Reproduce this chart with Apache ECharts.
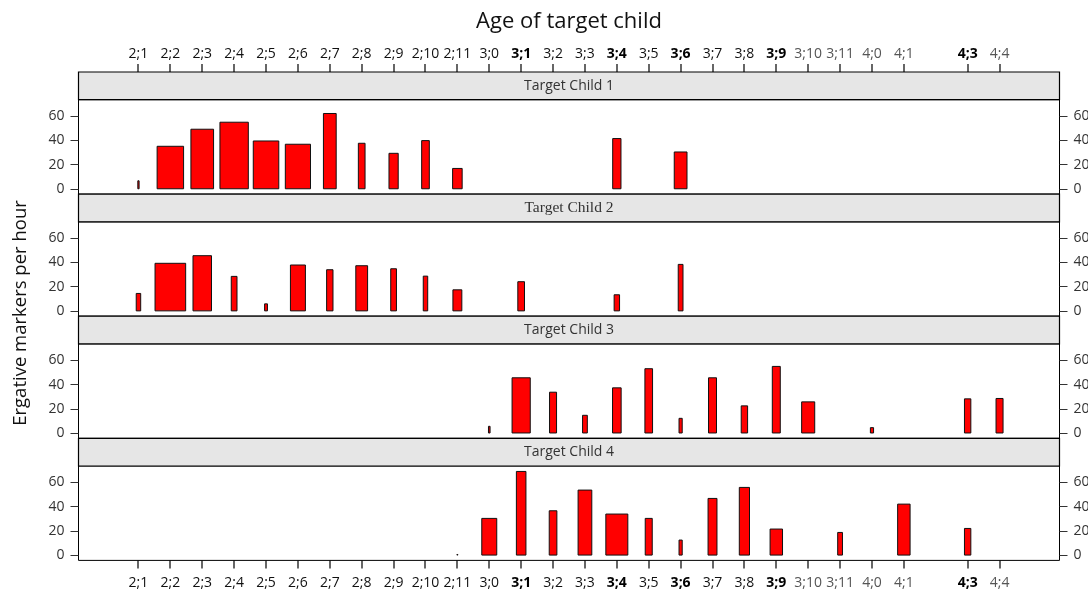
<!DOCTYPE html>
<html>
<head>
<meta charset="utf-8">
<title>Ergative markers per hour by age</title>
<script src="https://cdn.jsdelivr.net/npm/echarts@6/dist/echarts.min.js"></script>
<style>
  html, body { margin: 0; padding: 0; background: #fff; }
  #chart { width: 1088px; height: 590px; }
</style>
</head>
<body>
<div id="chart"></div>
<script>
// ---- data: age in months, ergative markers per hour, bar width (months) ----
const panelTitles = ['Target Child 1', 'Target Child 2', 'Target Child 3', 'Target Child 4'];

const child1Ages   = [25, 26, 27, 28, 29, 30, 31, 32, 33, 34, 35, 40, 42];
const child1Rates  = [6.6, 35.1, 49.2, 55.0, 39.5, 36.8, 62.2, 37.6, 29.3, 39.8, 16.8, 41.5, 30.4];
const child1Widths = [0.04, 0.83, 0.71, 0.89, 0.80, 0.79, 0.40, 0.21, 0.29, 0.24, 0.30, 0.26, 0.40];

const child2Ages   = [25, 26, 27, 28, 29, 30, 31, 32, 33, 34, 35, 37, 40, 42];
const child2Rates  = [14.4, 39.3, 45.6, 28.5, 5.8, 37.9, 34.0, 37.3, 34.8, 28.7, 17.4, 24.1, 13.3, 38.4];
const child2Widths = [0.14, 0.96, 0.58, 0.18, 0.09, 0.47, 0.20, 0.37, 0.18, 0.14, 0.28, 0.21, 0.17, 0.15];

const child3Ages   = [36, 37, 38, 39, 40, 41, 42, 43, 44, 45, 46, 48, 51, 52];
const child3Rates  = [5.5, 45.6, 33.7, 14.6, 37.3, 53.1, 12.1, 45.6, 22.4, 55.0, 25.7, 4.4, 28.2, 28.5];
const child3Widths = [0.05, 0.57, 0.22, 0.15, 0.27, 0.24, 0.10, 0.25, 0.20, 0.25, 0.41, 0.10, 0.20, 0.22];

const child4Ages   = [35, 36, 37, 38, 39, 40, 41, 42, 43, 44, 45, 47, 49, 51];
const child4Rates  = [0.5, 30.3, 69.1, 36.6, 53.7, 33.9, 30.3, 12.4, 46.8, 55.9, 21.5, 18.7, 42.1, 22.0];
const child4Widths = [0.03, 0.47, 0.30, 0.24, 0.43, 0.69, 0.22, 0.10, 0.28, 0.32, 0.39, 0.15, 0.39, 0.20];

// age axis ticks (months) and their year;month labels
const ageTicks  = [25, 26, 27, 28, 29, 30, 31, 32, 33, 34, 35, 36, 37, 38, 39, 40, 41, 42, 43, 44, 45, 46, 47, 48, 49, 51, 52];
const ageLabels = ['2;1', '2;2', '2;3', '2;4', '2;5', '2;6', '2;7', '2;8', '2;9', '2;10', '2;11',
                   '3;0', '3;1', '3;2', '3;3', '3;4', '3;5', '3;6', '3;7', '3;8', '3;9', '3;10', '3;11',
                   '4;0', '4;1', '4;3', '4;4'];
const rateTicks = [0, 20, 40, 60];

const ageRange  = [23.12, 53.88];
const rateRange = [-4.4, 73.6];

// ---- layout ----
const PLOT_L = 78.5, PLOT_R = 1059.5, PLOT_W = PLOT_R - PLOT_L;
const TOP = 72, STRIP_H = 27.7, PANEL_H = 94.4, TICK_LEN = 8;
const FONT = '"Open Sans", "Noto Sans", sans-serif';

const children = [
  [child1Ages, child1Rates, child1Widths],
  [child2Ages, child2Rates, child2Widths],
  [child3Ages, child3Rates, child3Widths],
  [child4Ages, child4Rates, child4Widths]
];

const heavyLabels = new Set(['3;1', '3;4', '3;6', '3;9', '4;3']);
const faintLabels = new Set(['3;10', '3;11', '4;0', '4;1', '4;4']);

function ageLabel(v) {
  const i = ageTicks.indexOf(Math.round(v));
  if (i < 0) return '';
  const t = ageLabels[i];
  const k = heavyLabels.has(t) ? 'h' : (faintLabels.has(t) ? 'f' : 'n');
  return '{' + k + '|' + t + '}';
}
const ageRich = {
  n: { fontFamily: FONT, fontSize: 14, color: '#111' },
  h: { fontFamily: FONT, fontSize: 14, color: '#000', fontWeight: 'bold' },
  f: { fontFamily: FONT, fontSize: 14, color: '#555' }
};

const grids = [], xAxes = [], yAxes = [], series = [], graphics = [];

// one panel (plus its strip header) per child
children.forEach(function (c, i) {
  const stripTop = TOP + i * (STRIP_H + PANEL_H);
  const panelTop = stripTop + STRIP_H;
  grids.push({
    left: PLOT_L, top: panelTop, width: PLOT_W, height: PANEL_H,
    outerBoundsMode: 'none', containLabel: false,
    show: true, borderColor: '#000', borderWidth: 1, backgroundColor: 'transparent'
  });

  xAxes.push({
    type: 'value', gridIndex: i, min: ageRange[0], max: ageRange[1], show: false
  });

  ['left', 'right'].forEach(function (side) {
    yAxes.push({
      type: 'value', gridIndex: i, position: side,
      min: rateRange[0], max: rateRange[1],
      axisLine: { show: false, onZero: false },
      splitLine: { show: false },
      axisTick: { show: true, length: TICK_LEN, customValues: rateTicks, lineStyle: { color: '#333' } },
      axisLabel: {
        show: true, customValues: rateTicks, margin: 14,
        fontFamily: FONT, fontSize: 14, color: '#333'
      }
    });
  });

  series.push({
    type: 'custom', xAxisIndex: i, yAxisIndex: i * 2,
    encode: { x: 0, y: 1 },
    data: c[0].map(function (age, j) { return [age, c[1][j], c[2][j]]; }),
    renderItem: function (params, api) {
      const x = api.value(0), v = api.value(1), w = api.value(2);
      const p0 = api.coord([x - w / 2, v]);
      const p1 = api.coord([x + w / 2, 0]);
      return {
        type: 'rect',
        shape: { x: p0[0], y: p0[1], width: p1[0] - p0[0], height: p1[1] - p0[1] },
        style: { fill: '#ff0000', stroke: '#111', lineWidth: 1 }
      };
    }
  });

  graphics.push({
    type: 'rect', z: 10,
    shape: { x: PLOT_L, y: stripTop, width: PLOT_W, height: STRIP_H },
    style: { fill: '#e6e6e6', stroke: '#000', lineWidth: 1.2 }
  });
  graphics.push({
    type: 'text', z: 11,
    x: PLOT_L + PLOT_W / 2, y: stripTop + STRIP_H / 2,
    style: {
      text: panelTitles[i],
      font: i === 1 ? '15.5px "Liberation Serif", serif' : '14px ' + FONT,
      fill: '#333', align: 'center', verticalAlign: 'middle'
    }
  });
});

// age axes: a band above the first strip and one below the last panel,
// each carrying the month labels
const bottomEdge = TOP + children.length * (STRIP_H + PANEL_H);
[
  { top: TOP - TICK_LEN, pos: 'top', margin: 3 },
  { top: bottomEdge, pos: 'bottom', margin: 8 }
].forEach(function (band) {
  const g = grids.length;
  grids.push({
    left: PLOT_L, top: band.top, width: PLOT_W, height: TICK_LEN,
    outerBoundsMode: 'none', containLabel: false, show: false
  });
  xAxes.push({
    type: 'value', gridIndex: g, min: ageRange[0], max: ageRange[1],
    position: band.pos,
    axisLine: { show: false, onZero: false },
    axisTick: { show: false },
    splitLine: { show: false },
    axisLabel: { show: true, customValues: ageTicks, formatter: ageLabel, rich: ageRich, margin: band.margin }
  });
  yAxes.push({ type: 'value', gridIndex: g, min: 0, max: 1, show: false });
});

graphics.push({
  type: 'text', x: PLOT_L + PLOT_W / 2, y: 22,
  style: { text: 'Age of target child', font: '22px ' + FONT, fill: '#111', align: 'center', verticalAlign: 'middle' }
});
graphics.push({
  type: 'text', x: 21, y: 313, rotation: Math.PI / 2,
  style: { text: 'Ergative markers per hour', font: '18.5px ' + FONT, fill: '#111', align: 'center', verticalAlign: 'middle' }
});

const chart = echarts.init(document.getElementById('chart'), null, { renderer: 'canvas' });
chart.setOption({
  animation: false,
  backgroundColor: '#fff',
  grid: grids,
  xAxis: xAxes,
  yAxis: yAxes,
  series: series,
  graphic: graphics
});

// month tick marks on the outer age axes, placed through the panel grid's scale
function agePixel(t) {
  let p = null;
  try { p = chart.convertToPixel({ gridIndex: 0 }, [t, 0]); } catch (e) { p = null; }
  if (p && isFinite(p[0])) return p[0];
  return PLOT_L + (t - ageRange[0]) / (ageRange[1] - ageRange[0]) * PLOT_W;
}
const tickMarks = [];
ageTicks.forEach(function (t) {
  const x = Math.round(agePixel(t)) - 0.5;
  tickMarks.push({
    type: 'line', z: 30, silent: true,
    shape: { x1: x + 0.5, y1: TOP - TICK_LEN, x2: x + 0.5, y2: TOP },
    style: { stroke: '#000', lineWidth: 1.2 }
  });
  tickMarks.push({
    type: 'line', z: 30, silent: true,
    shape: { x1: x + 0.5, y1: bottomEdge, x2: x + 0.5, y2: bottomEdge + TICK_LEN },
    style: { stroke: '#000', lineWidth: 1.2 }
  });
});
chart.setOption({ graphic: { elements: graphics.concat(tickMarks) } }, { replaceMerge: ['graphic'] });
</script>
</body>
</html>
